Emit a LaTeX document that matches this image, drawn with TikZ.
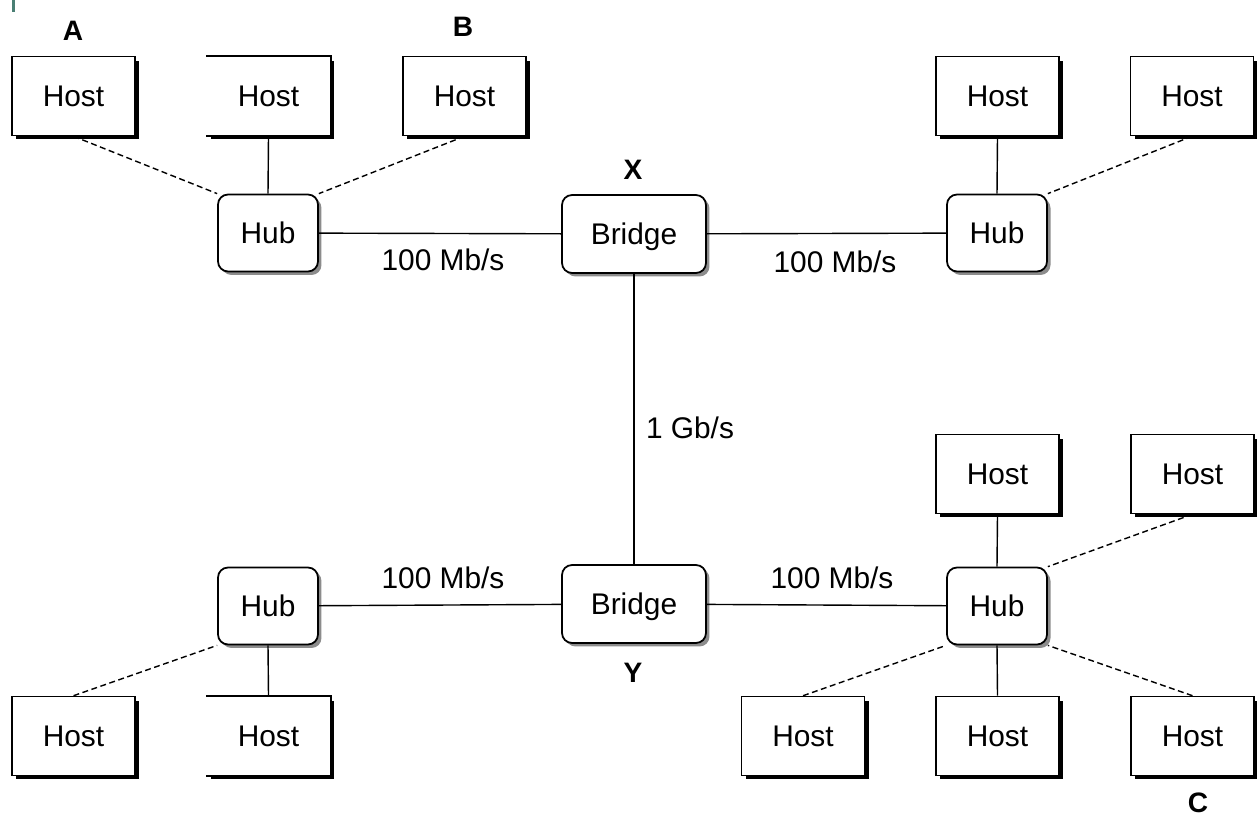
\documentclass[tikz,border=0pt]{standalone}
\usepackage{fontspec}
\setmainfont{Liberation Sans}
\usepackage{tikz}
\usetikzlibrary{shadows}
\definecolor{barteal}{HTML}{4A7F74}

\begin{document}
\begin{tikzpicture}[x=0.02cm,y=-0.02cm,
    host/.style={rectangle,draw,fill=white,line width=0.9pt,minimum width=2.46cm,minimum height=1.58cm,
        font=\fontsize{17}{20}\selectfont,
        drop shadow={shadow xshift=0.08cm,shadow yshift=-0.08cm,fill=black,opacity=1}},
    openhost/.style={host,draw=none},
    hub/.style={rectangle,rounded corners=0.2cm,draw,fill=white,line width=1pt,minimum width=2.0cm,minimum height=1.54cm,
        font=\fontsize{17}{20}\selectfont,
        drop shadow={shadow xshift=0.07cm,shadow yshift=-0.07cm,fill=black!45,opacity=1}},
    bridge/.style={hub,minimum width=2.88cm,minimum height=1.56cm,text depth=0pt},
    rate/.style={font=\fontsize{17}{20}\selectfont},
    tag/.style={font=\fontsize{16}{18}\selectfont\bfseries},
    link/.style={line width=0.8pt},
    wlink/.style={line width=0.8pt,dash pattern=on 3.4pt off 2pt},
    trunk/.style={line width=1.4pt}]

    \useasboundingbox (0,0) rectangle (1257,817);
    \fill[barteal] (12,0) rectangle (15,12);

    % hubs and bridges
    \node[hub] (hubTL) at (268,233) {Hub};
    \node[bridge] (brX) at (634,234) {Bridge};
    \node[hub] (hubTR) at (997,233) {Hub};
    \node[hub] (hubBL) at (268,606) {Hub};
    \node[bridge] (brY) at (634,604) {Bridge};
    \node[hub] (hubBR) at (997,606) {Hub};

    % hosts, top row
    \node[host] (hA) at (73.5,96) {Host};
    \node[openhost] (hT2) at (268.5,96) {Host};
    \node[host] (hB) at (464.5,96) {Host};
    \node[host] (hT4) at (997.5,96) {Host};
    \node[host] (hT5) at (1192,96) {Host};

    % hosts, lower right
    \node[host] (hR1) at (997.5,474) {Host};
    \node[host] (hR2) at (1192.5,474) {Host};
    \node[host] (hR3) at (803,736) {Host};
    \node[host] (hR4) at (997.5,736) {Host};
    \node[host] (hC) at (1192.5,736) {Host};

    % hosts, lower left
    \node[host] (hL1) at (73.5,736) {Host};
    \node[openhost] (hL2) at (268.5,736) {Host};

    % the two boxes drawn without a left side
    \draw[line width=0.9pt] (hT2.south west) -- (hT2.south east) -- (hT2.north east) -- (hT2.north west);
    \draw[line width=0.9pt] (hL2.south west) -- (hL2.south east) -- (hL2.north east) -- (hL2.north west);

    % labels
    \node[tag] (lA) at (73,31) {A};
    \node[tag] (lB) at (463,27) {B};
    \node[tag] (lX) at (633,170) {X};
    \node[tag] (lY) at (633,673) {Y};
    \node[tag] (lC) at (1198,803) {C};

    \node[rate] (r1) at (443,260) {100 Mb/s};
    \node[rate] (r2) at (835,262) {100 Mb/s};
    \node[rate] (r3) at (443,578) {100 Mb/s};
    \node[rate] (r4) at (832,578) {100 Mb/s};
    \node[rate] (r5) at (690,428) {1 Gb/s};

    % links
    \draw[link] (hubTL) -- (brX);
    \draw[link] (brX) -- (hubTR);
    \draw[link] (hubBL) -- (brY);
    \draw[link] (brY) -- (hubBR);
    \draw[trunk] (brX) -- (brY);

    \draw[wlink] (hA.south) -- (hubTL.north west);
    \draw[link] (hT2.south) -- (hubTL.north);
    \draw[wlink] (hB.south) -- (hubTL.north east);
    \draw[link] (hT4.south) -- (hubTR.north);
    \draw[wlink] (hT5.south) -- (hubTR.north east);

    \draw[wlink] (hL1.north) -- (hubBL.south west);
    \draw[link] (hL2.north) -- (hubBL.south);

    \draw[link] (hR1.south) -- (hubBR.north);
    \draw[wlink] (hR2.south) -- (hubBR.north east);
    \draw[wlink] (hR3.north) -- (hubBR.south west);
    \draw[link] (hR4.north) -- (hubBR.south);
    \draw[wlink] (hC.north) -- (hubBR.south east);
\end{tikzpicture}
\end{document}
